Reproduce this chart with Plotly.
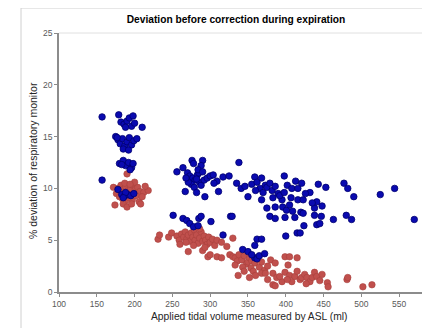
import plotly.graph_objects as go

# Blue series (deviation, higher group)
blue_x = [157, 179, 182, 186, 190, 193, 196, 198, 200, 188, 210,
          175, 178, 181, 184, 187, 190, 193, 196, 199, 203, 185, 192, 177,
          180, 185, 188, 192, 196, 198, 194, 183,
          157,
          178, 183, 187, 191, 195, 199, 188, 185,
          276, 290, 278, 288, 256, 264, 270, 273, 277, 280, 283, 286, 275, 279,
          282, 285, 288, 292, 296, 300, 304, 309, 271, 267, 282, 293, 305, 268, 284, 290,
          251, 264, 269, 273, 278, 285, 288, 284, 301, 327, 317,
          343, 350, 359, 362, 365, 372, 359, 362, 368, 355,
          400, 415, 419, 424, 441, 445,
          311, 317, 325, 338, 335, 341, 346, 350, 355, 359, 362, 366, 368, 370, 373,
          375, 379, 382, 386, 390, 368, 383, 395, 398, 402, 407, 408, 413, 416, 416,
          421, 423, 432, 441, 443, 453, 477, 482, 490, 525, 544,
          375, 386, 396, 401, 409, 420, 438, 329, 379, 386, 399, 412, 423, 438, 447,
          463, 480, 487, 570, 392, 360, 426, 435, 448, 398, 405]
blue_y = [16.9, 17.1, 16.4, 16.2, 16.5, 16.8, 16.0, 17.0, 16.3, 15.9, 15.9,
          15.0, 14.7, 14.3, 14.8, 14.1, 14.5, 14.9, 14.2, 14.6, 14.8, 13.8, 13.7, 14.9,
          12.4, 12.7, 12.2, 12.5, 12.0, 12.4, 11.8, 12.3,
          10.8,
          9.9, 9.4, 9.3, 9.4, 9.3, 9.5, 9.6, 9.1,
          12.7, 12.7, 12.4, 12.2, 11.6, 12.0, 11.5, 11.2, 11.0, 10.8, 11.3, 10.6, 10.4, 10.1,
          10.9, 11.5, 10.3, 10.8, 11.0, 11.2, 11.3, 10.7, 10.6, 9.7, 9.6, 9.2, 10.5, 11.0, 11.8, 11.6,
          7.4, 7.1, 6.9, 6.6, 6.3, 7.1, 7.3, 6.4, 6.8, 7.3, 5.5,
          4.1, 3.9, 3.3, 3.2, 3.5, 3.7, 4.5, 5.1, 5.1, 3.6,
          5.4, 5.7, 5.7, 6.4, 6.5, 6.6,
          9.7, 11.1, 11.2, 12.5, 10.5, 10.0, 10.2, 9.2, 10.4, 11.1, 10.6, 10.0, 11.0, 9.6, 10.3,
          10.1, 10.5, 9.8, 10.2, 9.5, 8.9, 9.1, 8.9, 11.2, 10.3, 9.1, 10.0, 10.7, 10.0, 8.9,
          10.5, 8.9, 9.6, 8.7, 10.4, 10.1, 10.5, 10.0, 9.2, 9.4, 10.0,
          8.1, 8.2, 8.2, 7.9, 7.8, 7.7, 8.1, 7.3, 7.3, 7.1, 7.2, 7.2, 7.6, 7.4, 7.3,
          7.0, 7.4, 7.0, 7.0, 9.3, 9.8, 9.5, 8.6, 8.3, 9.6, 8.4]

# Red series (deviation, lower group)
red_x = [190, 172, 178, 182, 185, 188, 192, 195, 198, 201, 204, 207, 212, 218,
         176, 180, 184, 188, 193, 197, 202, 206, 210, 174, 185, 190, 196, 208, 183, 200, 187, 194, 214,
         231, 233, 245, 249, 256, 259, 262, 265, 267, 269, 271, 273, 275, 277, 279, 280,
         282, 284, 286, 288, 290, 292, 294, 296, 298, 300, 303, 306, 309, 315,
         271, 290, 297, 300, 309, 315, 278, 268, 286, 260, 293, 330, 322,
         326, 330, 333, 336, 338, 342, 345, 348, 350, 352, 355, 359, 362, 365, 368, 372,
         333, 343, 354, 357, 337, 352, 368, 376, 380, 386, 399, 405, 415, 403, 345, 360,
         373, 376, 383, 388, 383, 386, 395, 399, 405, 408, 412, 415, 419, 421, 425, 428,
         432, 435, 438, 441, 445, 448, 455, 456, 392, 402, 427,
         481, 482, 502, 514]
red_y = [11.4, 10.1, 10.0, 10.3, 9.9, 10.2, 9.8, 10.0, 10.3, 9.9, 10.1, 9.7, 9.6, 9.8,
         9.5, 9.2, 9.0, 8.8, 9.1, 8.9, 9.3, 8.7, 9.2, 8.4, 8.5, 8.2, 8.5, 8.5, 9.6, 10.6, 10.5, 10.4, 10.2,
         5.1, 5.5, 5.3, 5.7, 5.4, 5.0, 5.6, 5.3, 5.8, 5.1, 5.5, 4.9, 5.7, 5.3, 6.0, 5.0,
         5.5, 4.7, 5.2, 5.8, 4.9, 5.4, 5.0, 4.6, 5.3, 4.8, 5.1, 4.5, 5.0, 4.8,
         3.9, 4.0, 3.4, 3.6, 3.4, 3.3, 4.5, 4.8, 6.1, 4.6, 4.3, 5.2, 4.4,
         3.6, 3.4, 3.3, 3.0, 3.6, 3.1, 3.5, 2.7, 2.9, 3.3, 3.0, 2.8, 3.2, 2.4, 2.9, 2.1,
         2.6, 2.4, 2.3, 2.0, 1.6, 1.4, 1.8, 2.5, 3.1, 2.8, 3.4, 3.4, 3.3, 2.6, 2.0, 1.6,
         1.8, 1.2, 1.8, 1.4, 0.7, 0.6, 1.0, 1.9, 1.6, 1.0, 1.5, 2.0, 1.2, 1.4, 1.7, 1.4,
         1.0, 1.4, 1.9, 1.5, 1.1, 1.7, 0.9, 0.5, 1.5, 1.2, 0.8,
         1.2, 1.4, 0.5, 0.7]

x_ticks = [100, 150, 200, 250, 300, 350, 400, 450, 500, 550, 600]
y_ticks = [0, 5, 10, 15, 20, 25]

title_text = "Deviation before correction during expiration"
x_title = "Applied tidal volume measured by ASL (ml)"
y_title = "% deviation of respiratory monitor"

FONT = "Liberation Sans, Arial, sans-serif"

# The page body has an 8px margin, so the figure is 8px smaller on each axis
# and its inner layout is shifted by -8px to line up with the reference.
W, H = 422, 320
OFF = 8

fig = go.Figure()
fig.add_trace(go.Scatter(
    x=red_x, y=red_y, mode="markers",
    marker=dict(size=6.5, color="#C0504D", line=dict(color="#A8403D", width=0.6)),
    showlegend=False, hoverinfo="skip"))
fig.add_trace(go.Scatter(
    x=blue_x, y=blue_y, mode="markers",
    marker=dict(size=6.5, color="#0A0AB0", line=dict(color="#00006E", width=0.8)),
    showlegend=False, hoverinfo="skip"))

fig.update_layout(
    width=W, height=H,
    margin=dict(l=59 - OFF, r=0, t=33 - OFF, b=36, pad=0),
    paper_bgcolor="white", plot_bgcolor="white",
    font=dict(family=FONT, color="#404040", size=8),
    title=dict(text="<b>" + title_text + "</b>", x=(236 - OFF) / W, xref="container",
               xanchor="center", y=1 - (19 - OFF) / H, yref="container", yanchor="middle",
               font=dict(family=FONT, size=10.2, color="#000000")),
    xaxis=dict(range=[100, 590.8], tickvals=x_ticks, showgrid=False, zeroline=False,
               showline=True, linecolor="#8C8C8C", linewidth=1.5,
               ticks="outside", ticklen=3, tickcolor="#8C8C8C", tickwidth=1.2,
               tickfont=dict(size=8.5, color="#595959"), fixedrange=True),
    yaxis=dict(range=[0, 25], tickvals=y_ticks, showgrid=False, zeroline=False,
               showline=True, linecolor="#8C8C8C", linewidth=1.5,
               ticks="outside", ticklen=3, tickcolor="#8C8C8C", tickwidth=1.2,
               tickfont=dict(size=8.5, color="#595959"), fixedrange=True),
    annotations=[
        dict(text=x_title, xref="paper", yref="paper", x=(249 - 59) / 371, y=(292 - 316) / 259,
             showarrow=False, xanchor="center", yanchor="middle",
             font=dict(family=FONT, size=10.3, color="#262626")),
        dict(text=y_title, xref="paper", yref="paper", x=(33 - 59) / 371, y=(292 - 161) / 259,
             showarrow=False, xanchor="center", yanchor="middle", textangle=-90,
             font=dict(family=FONT, size=10.5, color="#262626")),
    ],
    shapes=[
        dict(type="line", xref="paper", yref="paper", x0=(21 - 59) / 371, x1=1.2,
             y0=(292 - 8) / 259, y1=(292 - 8) / 259, line=dict(color="#D0D0D0", width=1)),
        dict(type="line", xref="paper", yref="paper", x0=(21 - 59) / 371, x1=(21 - 59) / 371,
             y0=(292 - 8) / 259, y1=-0.3, line=dict(color="#D0D0D0", width=1)),
        dict(type="line", xref="paper", yref="paper", x0=0, x1=1.2, y0=1, y1=1,
             line=dict(color="#E0E0E0", width=1)),
    ],
)

fig.write_html("out.html")
